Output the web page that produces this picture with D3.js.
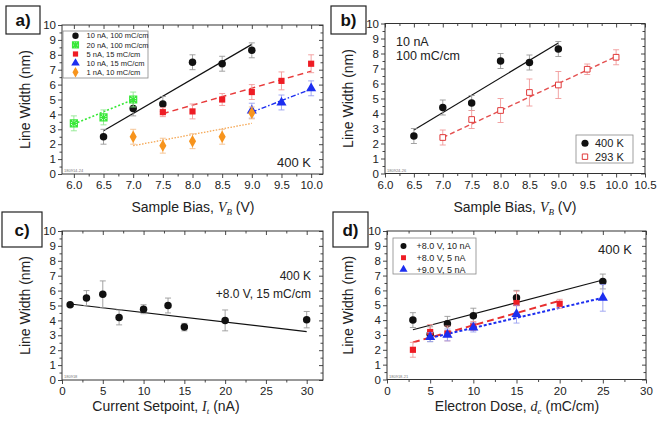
<!DOCTYPE html>
<html>
<head>
<meta charset="utf-8">
<script src="https://cdn.jsdelivr.net/npm/d3@7"></script>
<style>
  body { margin: 0; background: #fff; }
  svg { font-family: Arial, "Liberation Sans", sans-serif; }
</style>
</head>
<body>
<svg id="chart" width="660" height="424"></svg>
<script>
// ---- panel a: line width vs sample bias, several setpoints ----
var biasA10 = [6.5, 7.0, 7.5, 8.0, 8.5, 9.0];
var widthA10 = [2.5, 4.4, 4.7, 7.5, 7.4, 8.3];
var errA10 = [0.5, 0.5, 0.5, 0.5, 0.5, 0.5];
var biasA20 = [6.0, 6.5, 7.0];
var widthA20 = [3.4, 3.8, 5.0];
var errA20 = [0.5, 0.5, 0.5];
var biasA5 = [7.5, 8.0, 8.5, 9.0, 9.5, 10.0];
var widthA5 = [4.15, 4.2, 5.0, 5.5, 6.25, 7.4];
var errA5 = [0.3, 0.5, 0.4, 0.5, 0.6, 0.6];
var biasA10b = [9.0, 9.5, 10.0];
var widthA10b = [4.25, 4.8, 5.75];
var errA10b = [0.5, 0.5, 0.5];
var biasA1 = [7.0, 7.5, 8.0, 8.5, 9.0];
var widthA1 = [2.5, 1.9, 2.2, 2.5, 4.1];
var errA1 = [0.5, 0.5, 0.5, 0.5, 0.4];
var fitA10 = [[6.5, 2.9], [9.0, 8.7]];
var fitA20 = [[6.0, 3.35], [7.0, 5.0]];
var fitA5 = [[7.5, 4.05], [10.0, 6.9]];
var fitA10b = [[9.0, 4.15], [10.0, 5.7]];
var fitA1 = [[7.0, 1.9], [9.0, 3.4]];
var legendA = ['10 nA, 100 mC/cm', '20 nA, 100 mC/cm', '5 nA, 15 mC/cm', '10 nA, 15 mC/cm', '1 nA, 10 mC/cm'];

// ---- panel b: 400 K vs 293 K ----
var biasB400 = [6.5, 7.0, 7.5, 8.0, 8.5, 9.0];
var widthB400 = [2.5, 4.4, 4.7, 7.5, 7.4, 8.3];
var errB400 = [0.5, 0.5, 0.5, 0.5, 0.5, 0.5];
var biasB293 = [7.0, 7.5, 8.0, 8.5, 9.0, 9.5, 10.0];
var widthB293 = [2.4, 3.6, 4.2, 5.4, 5.9, 6.95, 7.75];
var errB293 = [0.5, 0.6, 0.8, 0.9, 0.9, 0.35, 0.5];
var fitB400 = [[6.5, 2.9], [9.0, 8.7]];
var fitB293 = [[7.0, 2.4], [10.0, 7.8]];
var legendB = ['400 K', '293 K'];

// ---- panel c: line width vs current setpoint ----
var currentC = [1, 3, 5, 7, 10, 13, 15, 20, 30];
var widthC = [5.05, 5.5, 5.75, 4.2, 4.75, 5.0, 3.55, 4.0, 4.05];
var errC = [0.1, 0.5, 0.9, 0.5, 0.3, 0.5, 0.25, 0.7, 0.55];
var fitC = [[1, 5.1], [30, 3.25]];

// ---- panel d: line width vs electron dose ----
var doseD8v10 = [3, 5, 7, 10, 15, 25];
var widthD8v10 = [4.0, 3.05, 3.75, 4.3, 5.5, 6.6];
var errD8v10 = [0.5, 0.5, 0.5, 0.5, 0.5, 0.5];
var doseD8v5 = [3, 5, 7, 10, 15, 20];
var widthD8v5 = [2.0, 3.2, 3.1, 3.6, 5.15, 5.1];
var errD8v5 = [0.5, 0.5, 0.5, 0.3, 0.8, 0.3];
var doseD9v5 = [5, 7, 10, 15, 25];
var widthD9v5 = [2.85, 3.0, 3.5, 4.4, 5.5];
var errD9v5 = [0.3, 0.4, 0.3, 0.6, 0.9];
var fitD8v10 = [[3, 3.35], [25, 6.7]];
var fitD8v5 = [[3, 2.5], [20, 5.3]];
var fitD9v5 = [[5, 2.8], [25, 5.5]];
var legendD = ['+8.0 V, 10 nA', '+8.0 V, 5 nA', '+9.0 V, 5 nA'];

var svg = d3.select('#chart');

var RED = '#ee1c24', GREEN = '#38e838', BLUE = '#1c2ef0', ORANGE = '#f7941d';

// marker shapes
function markerPath(kind, sz) {
  if (kind === 'star') {
    var s = sz / 2;
    return 'M' + (-s) + ',' + (-s) + 'L' + s + ',' + s + 'M' + (-s) + ',' + s + 'L' + s + ',' + (-s) +
      'M0,' + (-s) + 'L0,' + s + 'M' + (-s) + ',0L' + s + ',0' +
      'M' + (-s) + ',' + (-s) + 'H' + s + 'V' + s + 'H' + (-s) + 'Z';
  }
  var types = { circle: d3.symbolCircle, square: d3.symbolSquare, triangle: d3.symbolTriangle, diamond: d3.symbolDiamond };
  return d3.symbol().type(types[kind]).size(sz * sz * 0.9)();
}

function drawMarker(g, kind, color, cx, cy, sz, open) {
  var m = g.append('path')
    .attr('d', markerPath(kind, sz))
    .attr('transform', 'translate(' + cx + ',' + cy + ')');
  if (kind === 'star') {
    m.attr('fill', 'none').attr('stroke', color).attr('stroke-width', 1.2);
  } else if (open) {
    m.attr('fill', '#fff').attr('stroke', color).attr('stroke-width', 1);
  } else {
    m.attr('fill', color);
  }
}

function makePanel(p) {
  var g = svg.append('g');
  var x = d3.scaleLinear().domain(p.xDomain).range(p.xRange);
  var y = d3.scaleLinear().domain([0, 10]).range(p.yRange);
  var x0 = p.xRange[0], x1 = p.xRange[1], yb = p.yRange[0], yt = p.yRange[1];

  var yMajor = d3.range(0, 11, 1);
  var yMinor = d3.range(0.5, 10, 1);

  function styleAxis(sel) {
    sel.select('.domain').remove();
    sel.selectAll('line').attr('stroke', '#333').attr('stroke-width', 0.9);
    sel.selectAll('text').attr('fill', '#222').style('font-size', '11.5px').style('font-family', 'Arial, "Liberation Sans", sans-serif');
  }

  g.append('g').attr('transform', 'translate(0,' + yb + ')')
    .call(d3.axisBottom(x).tickValues(p.xTicks).tickFormat(p.xFormat).tickSizeInner(4).tickSizeOuter(0).tickPadding(3))
    .call(styleAxis);
  g.append('g').attr('transform', 'translate(0,' + yb + ')')
    .call(d3.axisBottom(x).tickValues(p.xMinor).tickFormat('').tickSizeInner(2.5).tickSizeOuter(0))
    .call(styleAxis);
  g.append('g').attr('transform', 'translate(0,' + yt + ')')
    .call(d3.axisTop(x).tickValues(p.xTicks).tickFormat('').tickSizeInner(-4).tickSizeOuter(0))
    .call(styleAxis);
  g.append('g').attr('transform', 'translate(0,' + yt + ')')
    .call(d3.axisTop(x).tickValues(p.xMinor).tickFormat('').tickSizeInner(-2.5).tickSizeOuter(0))
    .call(styleAxis);
  g.append('g').attr('transform', 'translate(' + x0 + ',0)')
    .call(d3.axisLeft(y).tickValues(yMajor).tickFormat(d3.format('d')).tickSizeInner(4).tickSizeOuter(0).tickPadding(2))
    .call(styleAxis);
  g.append('g').attr('transform', 'translate(' + x0 + ',0)')
    .call(d3.axisLeft(y).tickValues(yMinor).tickFormat('').tickSizeInner(2.5).tickSizeOuter(0))
    .call(styleAxis);
  g.append('g').attr('transform', 'translate(' + x1 + ',0)')
    .call(d3.axisRight(y).tickValues(yMajor).tickFormat('').tickSizeInner(-4).tickSizeOuter(0))
    .call(styleAxis);
  g.append('g').attr('transform', 'translate(' + x1 + ',0)')
    .call(d3.axisRight(y).tickValues(yMinor).tickFormat('').tickSizeInner(-2.5).tickSizeOuter(0))
    .call(styleAxis);

  g.append('rect')
    .attr('x', x0).attr('y', yt).attr('width', x1 - x0).attr('height', yb - yt)
    .attr('fill', 'none').attr('stroke', '#333').attr('stroke-width', 1);

  // tiny sample stamp
  g.append('text').attr('x', x0 + 2).attr('y', yb - 2)
    .attr('fill', '#777').style('font-size', '4px').text(p.stamp);

  // y title
  g.append('text')
    .attr('transform', 'translate(' + p.yTitleX + ',' + ((yt + yb) / 2) + ') rotate(-90)')
    .attr('text-anchor', 'middle').attr('dy', '0.35em')
    .attr('fill', '#222').style('font-size', '14px')
    .text('Line Width (nm)');

  // x title with italic symbol
  var t = g.append('text')
    .attr('x', p.xTitleX).attr('y', p.xTitleY)
    .attr('text-anchor', 'middle').attr('fill', '#222').style('font-size', '14px');
  t.append('tspan').text(p.xTitle[0]);
  t.append('tspan').style('font-family', '"Liberation Serif", "DejaVu Serif", serif').style('font-style', 'italic').text(p.xTitle[1]);
  t.append('tspan').style('font-family', '"Liberation Serif", "DejaVu Serif", serif').style('font-style', 'italic')
    .style('font-size', '9px').attr('dy', 3).text(p.xTitle[2]);
  t.append('tspan').attr('dy', -3).text(p.xTitle[3]);

  // panel letter box
  g.append('rect').attr('x', p.box[0]).attr('y', p.box[1]).attr('width', p.box[2]).attr('height', p.box[3])
    .attr('fill', '#fff').attr('stroke', '#222').attr('stroke-width', 1.2);
  g.append('text').attr('x', p.box[0] + p.box[2] / 2).attr('y', p.box[1] + p.box[3] / 2)
    .attr('text-anchor', 'middle').attr('dy', '0.36em')
    .style('font-size', '17px').style('font-weight', 'bold').attr('fill', '#111')
    .text(p.letter);

  var line = d3.line().x(function (d) { return x(d[0]); }).y(function (d) { return y(d[1]); });

  // fits
  p.series.forEach(function (s) {
    g.append('path').datum(s.fit).attr('d', line)
      .attr('fill', 'none').attr('stroke', s.fitColor || s.color)
      .attr('stroke-width', s.fitWidth || 1.3)
      .attr('stroke-dasharray', s.dash || null);
  });

  // error bars and markers
  p.series.forEach(function (s) {
    var eg = g.append('g').attr('stroke', s.errColor).attr('stroke-width', 0.9);
    s.x.forEach(function (xv, i) {
      var cx = x(xv), lo = y(s.y[i] - s.err[i]), hi = y(s.y[i] + s.err[i]);
      eg.append('line').attr('x1', cx).attr('x2', cx).attr('y1', lo).attr('y2', hi);
      eg.append('line').attr('x1', cx - 3).attr('x2', cx + 3).attr('y1', lo).attr('y2', lo);
      eg.append('line').attr('x1', cx - 3).attr('x2', cx + 3).attr('y1', hi).attr('y2', hi);
    });
    s.x.forEach(function (xv, i) {
      drawMarker(g, s.marker, s.color, x(xv), y(s.y[i]), s.size, s.open);
    });
  });

  // legend
  if (p.legend) {
    var L = p.legend;
    g.append('rect').attr('x', L.box[0]).attr('y', L.box[1]).attr('width', L.box[2]).attr('height', L.box[3])
      .attr('fill', '#fff').attr('stroke', '#888').attr('stroke-width', 0.8);
    L.labels.forEach(function (lab, i) {
      var s = p.series[i];
      var ly = L.y0 + i * L.dy;
      drawMarker(g, s.marker, s.color, L.sx, ly, s.size * L.scale, s.open);
      g.append('text').attr('x', L.tx).attr('y', ly).attr('dy', '0.35em')
        .attr('fill', '#222').style('font-size', L.font).text(lab);
    });
  }

  // annotations
  (p.notes || []).forEach(function (n) {
    g.append('text').attr('x', n[0]).attr('y', n[1]).attr('text-anchor', n[3])
      .attr('dy', '0.35em').attr('fill', '#222').style('font-size', n[4]).text(n[2]);
  });
}

var f1 = d3.format('.1f');

makePanel({
  letter: 'a)', box: [6, 6, 34, 28], stamp: '180914-24',
  xDomain: [5.8, 10.2], xRange: [62, 323], yRange: [174, 25],
  xTicks: d3.range(6, 10.01, 0.5), xMinor: d3.range(6.25, 10, 0.5), xFormat: f1,
  yTitleX: 25, xTitleX: 193, xTitleY: 212,
  xTitle: ['Sample Bias, ', 'V', 'B', ' (V)'],
  series: [
    { x: biasA10, y: widthA10, err: errA10, fit: fitA10, color: '#111', errColor: '#999', marker: 'circle', size: 7, fitWidth: 1.2 },
    { x: biasA20, y: widthA20, err: errA20, fit: fitA20, color: GREEN, errColor: '#8ee88e', marker: 'star', size: 7, dash: '2,2', fitWidth: 1.6 },
    { x: biasA5, y: widthA5, err: errA5, fit: fitA5, color: RED, errColor: '#f29a9a', marker: 'square', size: 6.5, dash: '6,4', fitColor: '#e83a3a', fitWidth: 1.5 },
    { x: biasA10b, y: widthA10b, err: errA10b, fit: fitA10b, color: BLUE, errColor: '#9aa0f0', marker: 'triangle', size: 7, dash: '5,2,1.5,2', fitWidth: 1.4 },
    { x: biasA1, y: widthA1, err: errA1, fit: fitA1, color: ORANGE, errColor: '#f5c08a', marker: 'diamond', size: 7, dash: '1.5,1.5', fitColor: '#f5a652', fitWidth: 1.3 }
  ],
  legend: { box: [63, 31, 85, 47], labels: legendA, y0: 35.8, dy: 9.1, sx: 75.5, tx: 86.5, font: '7.5px', scale: 0.85 },
  notes: [[311, 162, '400 K', 'end', '13px']]
});

makePanel({
  letter: 'b)', box: [331, 6, 35, 28], stamp: '180924-26',
  xDomain: [6.0, 10.5], xRange: [385, 645], yRange: [173.5, 23.5],
  xTicks: d3.range(6, 10.51, 0.5), xMinor: d3.range(6.25, 10.5, 0.5), xFormat: f1,
  yTitleX: 348, xTitleX: 515, xTitleY: 212,
  xTitle: ['Sample Bias, ', 'V', 'B', ' (V)'],
  series: [
    { x: biasB400, y: widthB400, err: errB400, fit: fitB400, color: '#111', errColor: '#999', marker: 'circle', size: 7, fitWidth: 1.2 },
    { x: biasB293, y: widthB293, err: errB293, fit: fitB293, color: '#e03a3a', errColor: '#f09a9a', marker: 'square', size: 6, open: true, dash: '5,3', fitColor: '#e45050', fitWidth: 1.4 }
  ],
  legend: { box: [576, 135, 57, 28], labels: legendB, y0: 143.3, dy: 13.4, sx: 585, tx: 595, font: '11px', scale: 0.95 },
  notes: [[396, 42, '10 nA', 'start', '12.5px'], [396, 56, '100 mC/cm', 'start', '12.5px']]
});

makePanel({
  letter: 'c)', box: [2, 212, 40, 35], stamp: '180918',
  xDomain: [0, 32], xRange: [62, 323], yRange: [380, 231],
  xTicks: d3.range(0, 31, 5), xMinor: d3.range(2.5, 30, 5), xFormat: d3.format('d'),
  yTitleX: 25, xTitleX: 166, xTitleY: 411,
  xTitle: ['Current Setpoint, ', 'I', 't', ' (nA)'],
  series: [
    { x: currentC, y: widthC, err: errC, fit: fitC, color: '#111', errColor: '#999', marker: 'circle', size: 7, fitWidth: 1.2 }
  ],
  notes: [[311, 276, '400 K', 'end', '12px'], [311, 293.5, '+8.0 V, 15 mC/cm', 'end', '12px']]
});

makePanel({
  letter: 'd)', box: [333, 212, 35, 35], stamp: '180918-21',
  xDomain: [0, 30], xRange: [387, 646], yRange: [379.5, 231],
  xTicks: d3.range(0, 31, 5), xMinor: d3.range(2.5, 30, 5), xFormat: d3.format('d'),
  yTitleX: 348, xTitleX: 517, xTitleY: 411,
  xTitle: ['Electron Dose, ', 'd', 'e', ' (mC/cm)'],
  series: [
    { x: doseD8v10, y: widthD8v10, err: errD8v10, fit: fitD8v10, color: '#111', errColor: '#999', marker: 'circle', size: 7, fitWidth: 1.2 },
    { x: doseD8v5, y: widthD8v5, err: errD8v5, fit: fitD8v5, color: RED, errColor: '#f29a9a', marker: 'square', size: 6.5, dash: '7,4', fitColor: '#e83030', fitWidth: 2 },
    { x: doseD9v5, y: widthD9v5, err: errD9v5, fit: fitD9v5, color: BLUE, errColor: '#9aa0f0', marker: 'triangle', size: 7, dash: '3,2', fitWidth: 2 }
  ],
  legend: { box: [393, 238, 83, 36], labels: legendD, y0: 246, dy: 11.7, sx: 403.5, tx: 416.5, font: '9px', scale: 0.8 },
  notes: [[632, 249, '400 K', 'end', '13px']]
});
</script>
</body>
</html>
